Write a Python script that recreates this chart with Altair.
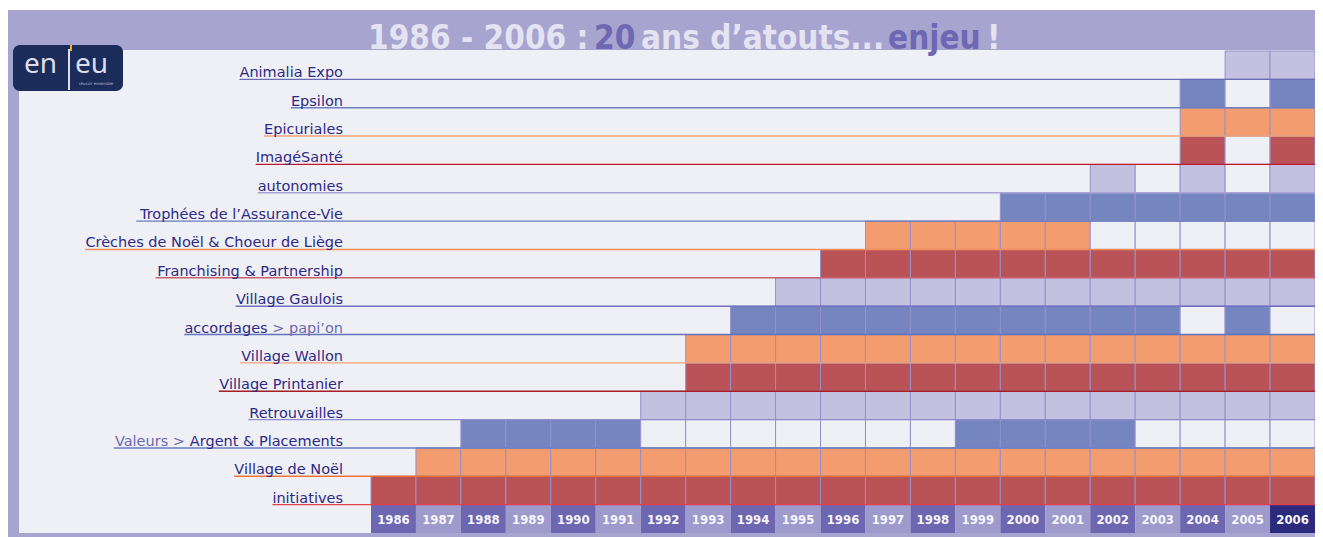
import altair as alt
import pandas as pd

# ---------------- data ----------------
rows = [
    "Animalia Expo", "Epsilon", "Epicuriales", "ImagéSanté", "autonomies",
    "Trophées de l’Assurance-Vie", "Crèches de Noël & Choeur de Liège",
    "Franchising & Partnership", "Village Gaulois", "accordages > papi’on",
    "Village Wallon", "Village Printanier", "Retrouvailles",
    "Valeurs > Argent & Placements", "Village de Noël", "initiatives",
]
label_pre = ["", "", "", "", "", "", "", "", "", "", "", "", "", "Valeurs >", "", ""]
label_main = [
    "Animalia Expo", "Epsilon", "Epicuriales", "ImagéSanté", "autonomies",
    "Trophées de l’Assurance-Vie", "Crèches de Noël & Choeur de Liège",
    "Franchising & Partnership", "Village Gaulois", "accordages",
    "Village Wallon", "Village Printanier", "Retrouvailles",
    "Argent & Placements", "Village de Noël", "initiatives",
]
label_post = ["", "", "", "", "", "", "", "", "", "> papi’on", "", "", "", "", "", ""]
row_kind = ["lavender", "blue", "orange", "red"] * 4

# active years per row as (first, last) spans
spans = [
    [(2005, 2006)],
    [(2004, 2004), (2006, 2006)],
    [(2004, 2006)],
    [(2004, 2004), (2006, 2006)],
    [(2002, 2002), (2004, 2004), (2006, 2006)],
    [(2000, 2006)],
    [(1997, 2001)],
    [(1996, 2006)],
    [(1995, 2006)],
    [(1994, 2003), (2005, 2005)],
    [(1993, 2006)],
    [(1993, 2006)],
    [(1992, 2006)],
    [(1988, 1991), (1999, 2002)],
    [(1987, 2006)],
    [(1986, 2006)],
]
years = [1986, 1987, 1988, 1989, 1990, 1991, 1992, 1993, 1994, 1995, 1996,
         1997, 1998, 1999, 2000, 2001, 2002, 2003, 2004, 2005, 2006]
YEAR_ROW = "__years__"

# ---------------- styles ----------------
kind_domain = ["red", "orange", "blue", "lavender", "empty"]
kind_range = ["#b95358", "#f29c6f", "#7485bf", "#c4c1e0", "#eff0f6"]
underline_colors = [
    "#6b69b3", "#6f7fc0", "#f4a274", "#c0182a", "#a9a6d6", "#6a79bb",
    "#f2905c", "#c9606c", "#7472c0", "#6272bd", "#f3a479", "#a81c24",
    "#8d8bc9", "#6c7cc0", "#f07534", "#e2404e",
]
FRAME = "#a8a4d0"
PANEL = "#eff0f6"
LABEL_FONT = "DejaVu Sans"
LABEL_SIZE = 14.5
COND_FONT = "DejaVu Sans Condensed, Liberation Sans Narrow, DejaVu Sans"
W_PLOT, H_PLOT = 1296, 483
GRID_X0, GRID_X1 = 352, 1296
LABEL_RIGHT = 324

# DejaVu Sans advance widths (units / 2048) for label measuring
ADV = {' ': 651, '&': 1595, "'": 563, '-': 739, '.': 651, ':': 690, '>': 1716, '’': 651,
       'A': 1401, 'B': 1405, 'C': 1430, 'D': 1577, 'E': 1294, 'F': 1178, 'G': 1587,
       'H': 1540, 'I': 604, 'L': 1141, 'N': 1532, 'P': 1235, 'R': 1423, 'S': 1300,
       'T': 1251, 'V': 1401, 'W': 2025,
       'a': 1255, 'b': 1300, 'c': 1126, 'd': 1300, 'e': 1260, 'é': 1260, 'è': 1260,
       'ë': 1260, 'f': 721, 'g': 1300, 'h': 1298, 'i': 569, 'j': 569, 'k': 1186,
       'l': 569, 'm': 1995, 'n': 1298, 'o': 1253, 'p': 1300, 'q': 1300, 'r': 842,
       's': 1067, 't': 803, 'u': 1298, 'v': 1212, 'w': 1675, 'x': 1212, 'y': 1212,
       'z': 1075}


def tw(s):
    return sum(ADV.get(c, 1250) for c in s) / 2048 * LABEL_SIZE


def px2yr(px):
    return years[0] + (px - GRID_X0) * (len(years)) / (GRID_X1 - GRID_X0)


# ---------------- tables ----------------
cells = []
for r, kind, sp in zip(rows, row_kind, spans):
    active = set()
    for a, b in sp:
        active.update(y for y in years if a <= y <= b)
    first = min(active)
    for y in years:
        if y >= first:
            cells.append({"row": r, "year": y, "year_end": y + 1,
                          "kind": kind if y in active else "empty"})
cells_df = pd.DataFrame(cells)

lab = []
for i, r in enumerate(rows):
    post_w = tw(label_post[i]) + tw(" ") if label_post[i] else 0
    main_right = LABEL_RIGHT - post_w
    pre_right = main_right - tw(label_main[i]) - tw(" ")
    full_w = post_w + tw(label_main[i]) + (tw(label_pre[i]) + tw(" ") if label_pre[i] else 0)
    lab.append({"row": r, "main": label_main[i], "pre": label_pre[i], "post": label_post[i],
                "x_main": px2yr(main_right), "x_pre": px2yr(pre_right),
                "x_post": px2yr(LABEL_RIGHT),
                "u_start": px2yr(LABEL_RIGHT - full_w), "u_end": years[-1] + 1})
lab_df = pd.DataFrame(lab)

yr_df = pd.DataFrame({"year": years})
yr_df["year_end"] = yr_df["year"] + 1
yr_df["mid"] = yr_df["year"] + 0.5
yr_df["row"] = YEAR_ROW
yr_df["shade"] = ["last" if y == years[-1] else ("dark" if i % 2 == 0 else "light")
                  for i, y in enumerate(years)]
yr_df["label"] = yr_df["year"].astype(str)

one = pd.DataFrame({"k": [0]})

# ---------------- scales ----------------
xs = alt.Scale(domain=[years[0], years[-1] + 1], range=[GRID_X0, GRID_X1], nice=False, zero=False)
ys = alt.Scale(domain=rows + [YEAR_ROW], range=[1, H_PLOT], paddingInner=0, paddingOuter=0)

frame = alt.Chart(one).mark_rect(color=FRAME).encode(
    x=alt.value(-12), x2=alt.value(W_PLOT + 10), y=alt.value(-40), y2=alt.value(H_PLOT + 10))
panel = alt.Chart(one).mark_rect(color=PANEL).encode(
    x=alt.value(0), x2=alt.value(W_PLOT + 10), y=alt.value(0), y2=alt.value(H_PLOT))

cell_layer = alt.Chart(cells_df).mark_rect(stroke="#9591cc", strokeWidth=1).encode(
    x=alt.X("year:Q", scale=xs, axis=None),
    x2="year_end:Q",
    y=alt.Y("row:N", scale=ys, axis=None),
    fill=alt.Fill("kind:N", scale=alt.Scale(domain=kind_domain, range=kind_range), legend=None),
)

year_rect = alt.Chart(yr_df).mark_rect().encode(
    x=alt.X("year:Q", scale=xs, axis=None),
    x2="year_end:Q",
    y=alt.Y("row:N", scale=ys, axis=None),
    fill=alt.Fill("shade:N", scale=alt.Scale(domain=["dark", "light", "last"],
                                              range=["#6d67b1", "#9e9acb", "#2b2a7c"]), legend=None),
)
year_text = alt.Chart(yr_df).mark_text(font=COND_FONT, fontWeight="bold", fontSize=13,
                                       color="#f6f6fb", baseline="middle", dy=1).encode(
    x=alt.X("mid:Q", scale=xs, axis=None),
    y=alt.Y("row:N", scale=ys, axis=None),
    text="label:N",
)

underline = alt.Chart(lab_df).mark_rule(strokeWidth=1.4).encode(
    x=alt.X("u_start:Q", scale=xs, axis=None),
    x2="u_end:Q",
    y=alt.Y("row:N", scale=ys, axis=None, bandPosition=1),
    stroke=alt.Stroke("row:N", scale=alt.Scale(domain=rows, range=underline_colors), legend=None),
)

text_main = alt.Chart(lab_df).mark_text(font=LABEL_FONT, fontSize=LABEL_SIZE, align="right",
                                        baseline="alphabetic", dy=-2, color="#2d2a85").encode(
    x=alt.X("x_main:Q", scale=xs, axis=None),
    y=alt.Y("row:N", scale=ys, axis=None, bandPosition=1),
    text="main:N",
)
text_pre = alt.Chart(lab_df).transform_filter("datum.pre != ''").mark_text(
    font=LABEL_FONT, fontSize=LABEL_SIZE, align="right", baseline="alphabetic", dy=-2,
    color="#6c6ab2").encode(
    x=alt.X("x_pre:Q", scale=xs, axis=None),
    y=alt.Y("row:N", scale=ys, axis=None, bandPosition=1),
    text="pre:N",
)
text_post = alt.Chart(lab_df).transform_filter("datum.post != ''").mark_text(
    font=LABEL_FONT, fontSize=LABEL_SIZE, align="right", baseline="alphabetic", dy=-2,
    color="#6c6ab2").encode(
    x=alt.X("x_post:Q", scale=xs, axis=None),
    y=alt.Y("row:N", scale=ys, axis=None, bandPosition=1),
    text="post:N",
)

# ---------------- title ----------------
LIGHT_T, DARK_T = "#e3e3f1", "#6e67b3"
title_parts = [("1986 - 2006 :", LIGHT_T, 349), ("20", DARK_T, 575),
               ("ans d’atouts...", LIGHT_T, 622), ("enjeu", DARK_T, 869), ("!", LIGHT_T, 968)]
title_layers = [
    alt.Chart(one).mark_text(font=COND_FONT, fontWeight="bold", fontSize=33, align="left",
                             baseline="alphabetic", color=col, text=t).encode(
        x=alt.value(xp), y=alt.value(-1))
    for t, col, xp in title_parts
]

# ---------------- logo ----------------
LOGO_TXT = "#dcdde8"
logo_bg = alt.Chart(one).mark_rect(color="#1b2b5a", cornerRadius=7).encode(
    x=alt.value(-6), x2=alt.value(104), y=alt.value(-5), y2=alt.value(41))
logo_en = alt.Chart(one).mark_text(font="Noto Sans", fontSize=28, color=LOGO_TXT, align="left",
                                   baseline="alphabetic", text="en").encode(
    x=alt.value(5), y=alt.value(23))
logo_eu = alt.Chart(one).mark_text(font="Noto Sans", fontSize=28, color=LOGO_TXT, align="left",
                                   baseline="alphabetic", text="eu").encode(
    x=alt.value(56), y=alt.value(23))
logo_j = alt.Chart(one).mark_rule(color=LOGO_TXT, strokeWidth=2).encode(
    x=alt.value(50), y=alt.value(-1), y2=alt.value(40))
logo_acc = alt.Chart(one).mark_rule(color="#e8b128", strokeWidth=2).encode(
    x=alt.value(52), y=alt.value(-5), y2=alt.value(1))
logo_tag = alt.Chart(one).mark_text(font="DejaVu Sans", fontSize=4, color="#b8bace", align="left",
                                    text="réussir ensemble").encode(
    x=alt.value(60), y=alt.value(34))

chart = alt.layer(
    frame, panel,
    cell_layer, year_rect, year_text, underline, text_pre, text_main, text_post,
    *title_layers, logo_bg, logo_j, logo_acc, logo_en, logo_eu, logo_tag,
).resolve_scale(fill="independent", stroke="independent").properties(
    width=W_PLOT, height=H_PLOT,
    autosize=alt.AutoSizeParams(type="none"),
    padding={"left": 11, "top": 42, "right": 0, "bottom": 4},
    background="#ffffff",
).configure_view(fill=None, stroke=None)

chart.save("out.html", embed_options={"renderer": "svg", "actions": False})
